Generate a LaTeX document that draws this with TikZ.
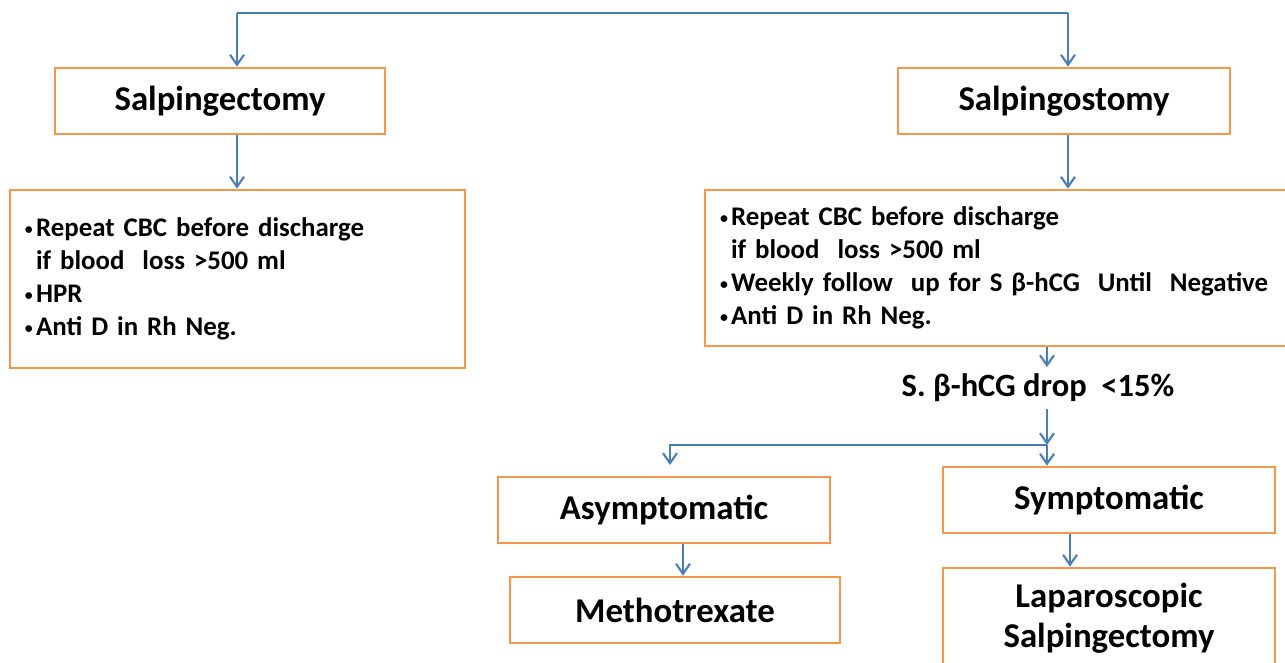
\documentclass[tikz,border=0pt]{standalone}
\usepackage{fontspec}
\setmainfont{Carlito}
\usepackage{tikz}
\usetikzlibrary{%
  arrows.meta,% wg. Straight Barb
  positioning,%
  calc%
}
\definecolor{boxorange}{RGB}{247,150,70}
\definecolor{linkblue}{RGB}{74,126,187}
\newcommand{\dotitem}{\raisebox{0.15ex}{\fontsize{9}{9}\selectfont •}\hspace{0.12em}}

\begin{document}
\begin{tikzpicture}
[line width=1.2pt, >={Straight Barb[length=2mm,width=2.8mm]},
proc/.style={rectangle, draw=boxorange, line width=1.6pt, fill=white, inner sep=0pt,
  minimum width=6.64cm, minimum height=1.32cm, font=\fontsize{19.8}{22.8}\selectfont\bfseries, align=center},
detail/.style={rectangle, draw=boxorange, line width=1.6pt, fill=white, inner xsep=0.3cm, inner ysep=0pt,
  font=\fontsize{15.3}{18.8}\selectfont\bfseries, align=left},
link/.style={draw=linkblue, ->}]

\useasboundingbox (0,0) rectangle (25.7,-13.24);

\coordinate (tl) at (4.74,-0.26);
\coordinate (tr) at (21.36,-0.26);

\node[proc, minimum width=6.6cm] (sectomy) at (4.40,-2.02) {Salpingectomy};
\node[proc] (sostomy) at (21.28,-2.02) {Salpingostomy};

\node[detail, text width=8.5cm, minimum height=3.56cm] (ldet) at (4.75,-5.58)
  {\dotitem Repeat CBC before discharge\\
   \phantom{\dotitem}if blood\ \ loss >500 ml\\
   \dotitem HPR\\
   \dotitem Anti D in Rh Neg.};
\node[detail, text width=11.2cm, minimum height=3.12cm] (rdet) at (20.0,-5.36)
  {\dotitem Repeat CBC before discharge\\
   \phantom{\dotitem}if blood\ \ loss >500 ml\\
   \dotitem Weekly follow\ \ up for S β-hCG\ \ Until\ \ Negative\\
   \dotitem Anti D in Rh Neg.};

\node[font=\fontsize{18.5}{22}\selectfont\bfseries] (drop) at (20.76,-7.76) {S. β-hCG drop\ \ <15\%};

\coordinate (split) at (20.94,-8.90);
\coordinate (atip) at (13.40,-9.30);

\node[proc] (asym) at (13.28,-10.20) {Asymptomatic};
\node[proc] (sym) at (22.18,-10.0) {Symptomatic};
\node[proc, minimum width=6.6cm] (meth) at (13.5,-12.2) {Methotrexate};
\node[proc, minimum height=2cm] (lap) at (22.18,-12.36) {Laparoscopic\\Salpingectomy};

\draw[linkblue] (tl) -- (tr);
\draw[link] (tl) -- (tl |- sectomy.north);
\draw[link] (tr) -- (tr |- sostomy.north);
\draw[link] (sectomy.south -| tl) -- (ldet.north -| tl);
\draw[link] (sostomy.south -| tr) -- (rdet.north -| tr);

\draw[link] (rdet.south -| split) -- (drop.north -| split);
\draw[link] (drop.south -| split) -- (split);
\draw[link] (split) -| (atip);
\draw[link] (split) -- (sym.north -| split);

\draw[link] ([xshift=3.8mm]asym.south) -- ([xshift=3.8mm]asym.south |- meth.north);
\draw[link] ([xshift=-7.8mm]sym.south) -- ([xshift=-7.8mm]sym.south |- lap.north);

\end{tikzpicture}
\end{document}
